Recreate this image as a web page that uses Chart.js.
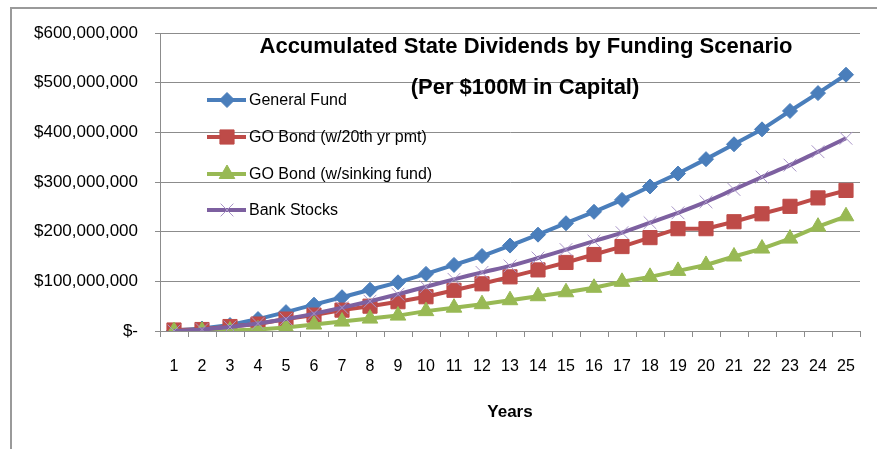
<!DOCTYPE html>
<html>
<head>
<meta charset="utf-8">
<script src="https://cdn.jsdelivr.net/npm/chart.js@4/dist/chart.umd.min.js"></script>
<style>
  html, body { margin: 0; padding: 0; background: #fff; }
  canvas { display: block; }
</style>
</head>
<body>
<canvas id="c" width="877" height="449"></canvas>
<script>
// ---- Data (values in millions of dollars) ----
const years = ['1','2','3','4','5','6','7','8','9','10','11','12','13','14','15','16','17','18','19','20','21','22','23','24','25'];
const generalFund = [1, 5, 12, 24, 38, 53, 68, 83, 98, 115, 133, 151, 172, 194, 217, 240, 264, 291, 317, 346, 376, 406, 443, 479, 516];
const goBond20th = [2, 3, 9, 14, 24, 32, 42, 50, 59, 69, 82, 95, 109, 123, 138, 154, 170, 188, 206, 206, 220, 236, 251, 268, 283];
const goBondSinking = [0, 0.5, 1, 3, 7, 13, 19, 25, 31, 40, 47, 54, 62, 70, 78, 87, 99, 109, 121, 133, 150, 166, 186, 210, 231];
const bankStocks = [0, 3, 8, 15, 24, 35, 47, 60, 74, 89, 104, 118, 131, 147, 164, 181, 198, 218, 238, 260, 285, 310, 334, 361, 388];
const yTickLabels = ['$-', '$100,000,000', '$200,000,000', '$300,000,000', '$400,000,000', '$500,000,000', '$600,000,000'];
const seriesNames = ['General Fund', 'GO Bond (w/20th yr pmt)', 'GO Bond (w/sinking fund)', 'Bank Stocks'];
const titleLines = ['Accumulated State Dividends by Funding Scenario', '(Per $100M in Capital)'];
const xAxisTitle = 'Years';

const FONT = "'Liberation Sans', Arial, sans-serif";

const framePlugin = {
  id: 'frame',
  beforeDraw(chart) {
    const ctx = chart.ctx;
    ctx.save();
    ctx.fillStyle = '#fff';
    ctx.fillRect(0, 0, chart.width, chart.height);
    ctx.strokeStyle = '#9a9a9a';
    ctx.lineWidth = 2;
    ctx.beginPath();
    ctx.moveTo(11, chart.height);
    ctx.lineTo(11, 8);
    ctx.lineTo(chart.width, 8);
    ctx.stroke();
    ctx.restore();
  }
};

const overlayPlugin = {
  id: 'overlay',
  afterDraw(chart) {
    const ctx = chart.ctx;
    ctx.save();
    // Title
    ctx.fillStyle = '#000';
    ctx.font = "bold 22px " + FONT;
    ctx.textAlign = 'center';
    ctx.textBaseline = 'middle';
    ctx.fillText(titleLines[0], 526, 47);
    ctx.fillText(titleLines[1], 525, 88);
    // Legend
    const rows = [100, 137, 174, 210];
    chart.data.datasets.forEach((ds, i) => {
      const y = rows[i];
      ctx.strokeStyle = ds.borderColor;
      ctx.lineWidth = 4;
      ctx.beginPath();
      ctx.moveTo(207, y);
      ctx.lineTo(246, y);
      ctx.stroke();
      ctx.fillStyle = ds.pointBackgroundColor;
      ctx.strokeStyle = ds.pointBorderColor;
      ctx.lineWidth = ds.pointBorderWidth;
      Chart.helpers.drawPoint(ctx, {
        pointStyle: ds.pointStyle,
        radius: ds.pointRadius,
        rotation: 0,
        borderWidth: ds.pointBorderWidth
      }, 227, y);
      ctx.fillStyle = '#000';
      ctx.font = "16px " + FONT;
      ctx.textAlign = 'left';
      ctx.textBaseline = 'middle';
      ctx.fillText(ds.label, 249, y + 1);
    });
    ctx.restore();
  }
};

function series(label, data, color, style, radius, markerColor, markerBorder, order, tension) {
  return {
    label: label,
    data: data,
    borderColor: color,
    backgroundColor: color,
    borderWidth: 4,
    pointStyle: style,
    pointRadius: radius,
    pointHoverRadius: radius,
    pointBackgroundColor: markerColor,
    pointBorderColor: markerColor,
    pointBorderWidth: markerBorder,
    order: order,
    tension: tension,
    cubicInterpolationMode: 'default'
  };
}

new Chart(document.getElementById('c'), {
  type: 'line',
  data: {
    labels: years,
    datasets: [
      series(seriesNames[0], generalFund, '#4a7ebb', 'rectRot', 7.5, '#4a7ebb', 1, 4, 0),
      series(seriesNames[1], goBond20th, '#be4b48', 'rect', 10, '#be4b48', 1, 3, 0),
      series(seriesNames[2], goBondSinking, '#98b954', 'triangle', 9, '#98b954', 1, 2, 0),
      series(seriesNames[3], bankStocks, '#7d60a0', 'crossRot', 9, '#a995c8', 1, 1, 0.35)
    ]
  },
  options: {
    responsive: false,
    animation: false,
    devicePixelRatio: 1,
    layout: { padding: { left: 10, top: 33, right: 17, bottom: 0 } },
    plugins: {
      legend: { display: false },
      title: { display: false },
      tooltip: { enabled: false }
    },
    scales: {
      x: {
        type: 'category',
        offset: true,
        grid: { offset: true, drawOnChartArea: false, drawTicks: true, tickLength: 6, color: '#8c8c8c' },
        border: { color: '#8c8c8c', width: 1 },
        ticks: { color: '#000', font: { family: FONT, size: 16 }, padding: 20, maxRotation: 0, autoSkip: false },
        title: { display: true, text: xAxisTitle, color: '#000', font: { family: FONT, size: 17, weight: 'bold' }, padding: { top: 0, bottom: 26 } },
        afterFit(scale) { scale.height = 118; }
      },
      y: {
        min: 0,
        max: 600,
        grid: { color: '#8c8c8c', tickLength: 5 },
        border: { color: '#8c8c8c', width: 1 },
        ticks: {
          stepSize: 100,
          color: '#000',
          font: { family: FONT, size: 17 },
          padding: 17,
          callback: (v) => yTickLabels[Math.round(v / 100)]
        },
        afterFit(scale) { scale.width = 150; }
      }
    }
  },
  plugins: [framePlugin, overlayPlugin]
});
</script>
</body>
</html>
